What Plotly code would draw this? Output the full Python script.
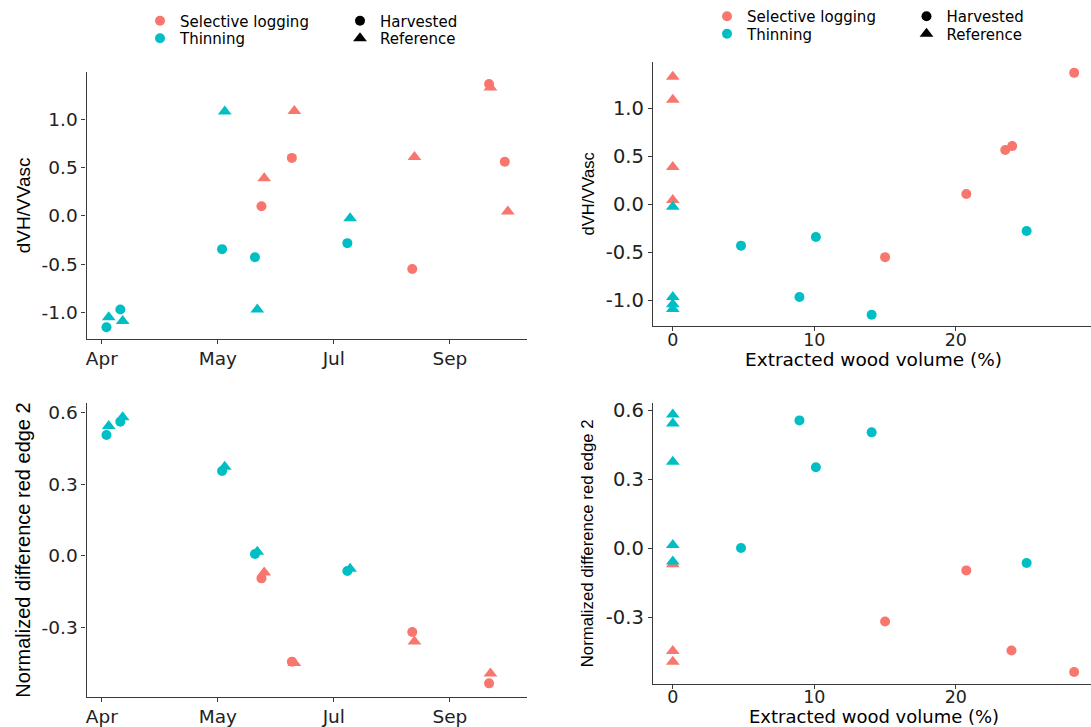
import plotly.graph_objects as go

# ---------------- data ----------------
SL_COLOR = "#F8766D"   # Selective logging
TH_COLOR = "#00BFC4"   # Thinning

# acquisition dates (left panels)
dates_sl_harv = ["2017-06-22 14:00", "2017-07-08 07:00", "2017-09-08 14:00", "2017-10-18 07:00", "2017-10-26 10:00"]
dates_sl_ref = ["2017-06-24 00:00", "2017-07-09 14:00", "2017-09-09 17:00", "2017-10-19 00:00", "2017-10-28 00:00"]
dates_th_harv = ["2017-04-03 10:00", "2017-04-10 14:00", "2017-06-02 05:00", "2017-06-19 05:00", "2017-08-06 00:00"]
dates_th_ref = ["2017-04-04 14:00", "2017-04-11 19:00", "2017-06-03 14:00", "2017-06-20 10:00", "2017-08-07 10:00"]

# dVH/VVasc over time (top-left)
dvh_t_sl_harv = [0.10, 0.60, -0.55, 1.366, 0.56]
dvh_t_sl_ref = [0.39, 1.086, 0.61, 1.33, 0.045]
dvh_t_th_harv = [-1.155, -0.97, -0.345, -0.43, -0.283]
dvh_t_th_ref = [-1.05, -1.09, 1.08, -0.97, -0.024]

# NDRE2 over time (bottom-left)
ndre_t_sl_harv = [-0.095, -0.445, -0.32, -0.536]
ndre_t_sl_ref = [-0.07, -0.45, -0.36, -0.495]
ndre_t_th_harv = [0.507, 0.563, 0.356, 0.007, -0.064]
ndre_t_th_ref = [0.545, 0.581, 0.374, 0.017, -0.055]

# extracted wood volume (%) (right panels)
vol_sl_harv = [28.36, 23.49, 23.98, 20.74, 15.0]
vol_th_harv = [4.82, 10.11, 8.95, 14.05, 25.0]
vol_sl_harv_b = [20.74, 15.0, 23.93, 28.36]

# dVH/VVasc vs volume (top-right)
dvh_v_sl_harv = [1.37, 0.566, 0.607, 0.108, -0.55]
dvh_v_th_harv = [-0.43, -0.34, -0.965, -1.149, -0.278]
dvh_v_sl_ref = [1.33, 1.09, 0.39, 0.045]
dvh_v_th_ref = [-0.024, -0.965, -1.04, -1.09]

# NDRE2 vs volume (bottom-right)
ndre_v_sl_harv = [-0.097, -0.319, -0.445, -0.539]
ndre_v_th_harv = [0.0, 0.351, 0.555, 0.503, -0.065]
ndre_v_sl_ref = [-0.07, -0.448, -0.494]
ndre_v_th_ref = [0.581, 0.542, 0.375, 0.013, -0.058]

# tick labels
date_ticks = ["2017-04-01", "2017-05-31", "2017-07-30", "2017-09-28"]
date_tick_text = ["Apr", "May", "Jul", "Sep"]
dvh_ticks = [-1.0, -0.5, 0.0, 0.5, 1.0]
dvh_tick_text = ["-1.0", "-0.5", "0.0", "0.5", "1.0"]
ndre_ticks = [-0.3, 0.0, 0.3, 0.6]
ndre_tick_text = ["-0.3", "0.0", "0.3", "0.6"]
vol_ticks = [0, 10, 20]
vol_tick_text = ["0", "10", "20"]

# ---------------- figure ----------------
W, H = 1091, 727
fig = go.Figure()

CIRC = 10
TRI = 12


def add_pts(x, y, color, symbol, xa, ya):
    fig.add_trace(go.Scatter(
        x=x, y=y, mode="markers", showlegend=False, hoverinfo="x+y",
        marker=dict(color=color, symbol=symbol, size=CIRC if symbol == "circle" else TRI,
                    line=dict(width=0)),
        xaxis=xa, yaxis=ya))


# top-left
add_pts(dates_sl_harv, dvh_t_sl_harv, SL_COLOR, "circle", "x", "y")
add_pts(dates_sl_ref, dvh_t_sl_ref, SL_COLOR, "triangle-up", "x", "y")
add_pts(dates_th_harv, dvh_t_th_harv, TH_COLOR, "circle", "x", "y")
add_pts(dates_th_ref, dvh_t_th_ref, TH_COLOR, "triangle-up", "x", "y")
# top-right
add_pts(vol_sl_harv, dvh_v_sl_harv, SL_COLOR, "circle", "x2", "y2")
add_pts([0] * len(dvh_v_sl_ref), dvh_v_sl_ref, SL_COLOR, "triangle-up", "x2", "y2")
add_pts(vol_th_harv, dvh_v_th_harv, TH_COLOR, "circle", "x2", "y2")
add_pts([0] * len(dvh_v_th_ref), dvh_v_th_ref, TH_COLOR, "triangle-up", "x2", "y2")
# bottom-left
add_pts(dates_sl_harv[:4], ndre_t_sl_harv, SL_COLOR, "circle", "x3", "y3")
add_pts(dates_sl_ref[:4], ndre_t_sl_ref, SL_COLOR, "triangle-up", "x3", "y3")
add_pts(dates_th_harv, ndre_t_th_harv, TH_COLOR, "circle", "x3", "y3")
add_pts(dates_th_ref, ndre_t_th_ref, TH_COLOR, "triangle-up", "x3", "y3")
# bottom-right
add_pts(vol_sl_harv_b, ndre_v_sl_harv, SL_COLOR, "circle", "x4", "y4")
add_pts([0] * len(ndre_v_sl_ref), ndre_v_sl_ref, SL_COLOR, "triangle-up", "x4", "y4")
add_pts(vol_th_harv, ndre_v_th_harv, TH_COLOR, "circle", "x4", "y4")
add_pts([0] * len(ndre_v_th_ref), ndre_v_th_ref, TH_COLOR, "triangle-up", "x4", "y4")

# legend entries: one small legend per entry so rows sit as tightly as in the reference
# (name, colour, symbol, legend id, axes, left px, top px)
legend_entries = [
    ("Selective logging", SL_COLOR, "circle", "legend", "x", "y", 140, 4.5),
    ("Thinning", TH_COLOR, "circle", "legend2", "x", "y", 140, 22.0),
    ("Harvested", "black", "circle", "legend3", "x", "y", 340, 4.5),
    ("Reference", "black", "triangle-up", "legend4", "x", "y", 340, 22.0),
    ("Selective logging", SL_COLOR, "circle", "legend5", "x2", "y2", 707, 0.0),
    ("Thinning", TH_COLOR, "circle", "legend6", "x2", "y2", 707, 17.5),
    ("Harvested", "black", "circle", "legend7", "x2", "y2", 906.5, 0.0),
    ("Reference", "black", "triangle-up", "legend8", "x2", "y2", 906.5, 17.5),
]
for name, col, sym, leg, xa, ya, _, _ in legend_entries:
    fig.add_trace(go.Scatter(
        x=[None], y=[None], mode="markers", name=name, legend=leg, showlegend=True,
        marker=dict(color=col, symbol=sym, size=CIRC if sym == "circle" else TRI),
        xaxis=xa, yaxis=ya))

TICK_COLOR = "#222222"
LINE_COLOR = "#3a3a3a"


def px_x(p):
    return p / W


def px_y(p):
    return 1 - p / H


def axis_common(tick_size):
    return dict(
        showline=True, linecolor=LINE_COLOR, linewidth=1.2,
        showgrid=False, zeroline=False,
        ticks="outside", ticklen=4, tickwidth=1, tickcolor=LINE_COLOR,
        tickfont=dict(family="DejaVu Sans", size=tick_size, color=TICK_COLOR),
        mirror=False, automargin=False,
    )


LEFT_DOM = [px_x(86.5), px_x(527)]
RIGHT_DOM = [px_x(652.9), 1.0]
date_range = ["2017-03-24 02:00", "2017-11-06 22:00"]
vol_range = [-1.406, 29.55]

layout = dict(
    width=W, height=H,
    margin=dict(l=0, r=0, t=0, b=0),
    paper_bgcolor="white", plot_bgcolor="white",
    showlegend=True,
    # top-left
    xaxis=dict(axis_common(18.5), domain=LEFT_DOM, anchor="y", type="date",
               range=date_range, tickvals=date_ticks, ticktext=date_tick_text,
               ticklabelstandoff=-1),
    yaxis=dict(axis_common(18.5), domain=[px_y(339), px_y(71.7)], anchor="x",
               range=[-1.276, 1.493], tickvals=dvh_ticks, ticktext=dvh_tick_text,
               title=dict(text="dVH/VVasc", standoff=5,
                          font=dict(family="Liberation Sans, Arial", size=19, color="black"))),
    # top-right
    xaxis2=dict(axis_common(17.5), domain=RIGHT_DOM, anchor="y2",
                range=vol_range, tickvals=vol_ticks, ticktext=vol_tick_text,
                ticklabelstandoff=-6),
    yaxis2=dict(axis_common(19.5), domain=[px_y(326), px_y(61.7)], anchor="x2",
                range=[-1.267, 1.486], tickvals=dvh_ticks, ticktext=dvh_tick_text,
                title=dict(text="dVH/VVasc", standoff=7,
                           font=dict(family="Liberation Sans, Arial", size=16.5, color="black"))),
    # bottom-left
    xaxis3=dict(axis_common(18.5), domain=LEFT_DOM, anchor="y3", type="date",
                range=date_range, tickvals=date_ticks, ticktext=date_tick_text,
                ticklabelstandoff=-1),
    yaxis3=dict(axis_common(18.5), domain=[px_y(696.7), px_y(403.3)], anchor="x3",
                range=[-0.592, 0.640], tickvals=ndre_ticks, ticktext=ndre_tick_text,
                title=dict(text="Normalized difference red edge 2", standoff=5,
                           font=dict(family="Liberation Sans, Arial", size=20, color="black"))),
    # bottom-right
    xaxis4=dict(axis_common(17.5), domain=RIGHT_DOM, anchor="y4",
                range=vol_range, tickvals=vol_ticks, ticktext=vol_tick_text,
                ticklabelstandoff=-7),
    yaxis4=dict(axis_common(19.5), domain=[px_y(684), px_y(402.7)], anchor="x4",
                range=[-0.591, 0.632], tickvals=ndre_ticks, ticktext=ndre_tick_text,
                title=dict(text="Normalized difference red edge 2", standoff=7,
                           font=dict(family="Liberation Sans, Arial", size=16.8, color="black"))),
)

LEG_FONT = dict(family="DejaVu Sans", size=15, color="black")
for name, col, sym, leg, xa, ya, left, top in legend_entries:
    layout[leg] = dict(x=px_x(left), xanchor="left", y=px_y(top), yanchor="top",
                       bgcolor="rgba(0,0,0,0)", borderwidth=0, font=LEG_FONT,
                       orientation="v", tracegroupgap=0)

# x-axis titles of the right-hand panels (placed exactly; the bottom one sits at the page edge)
xtitle_center = (652.9 + 1094.3) / 2
layout["annotations"] = [
    dict(text="Extracted wood volume (%)", xref="paper", yref="paper",
         x=px_x(xtitle_center), y=px_y(360), xanchor="center", yanchor="middle",
         showarrow=False, font=dict(family="DejaVu Sans", size=18.5, color="black")),
    dict(text="Extracted wood volume (%)", xref="paper", yref="paper",
         x=px_x(xtitle_center), y=px_y(716.3), xanchor="center", yanchor="middle",
         showarrow=False, font=dict(family="DejaVu Sans", size=18, color="black")),
]

fig.update_layout(**layout)
fig.write_html("out.html")
